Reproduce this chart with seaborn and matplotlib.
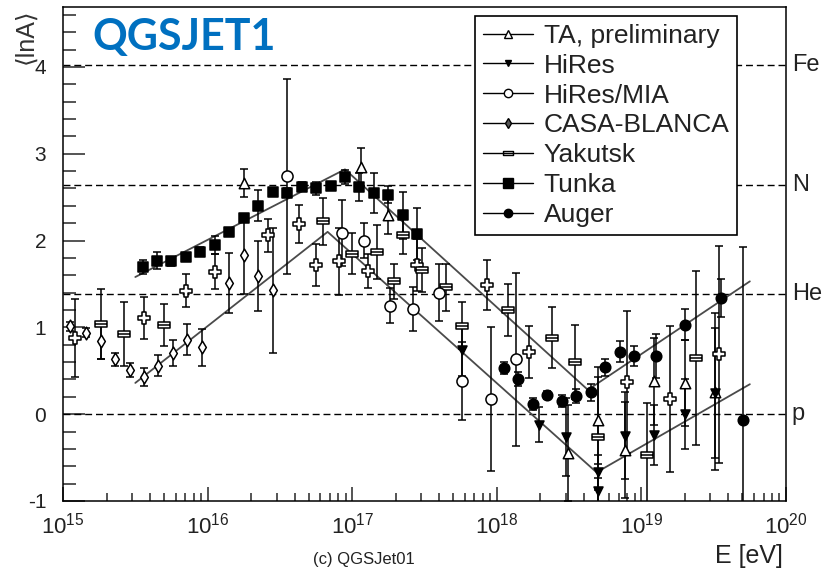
import numpy as np
import pandas as pd
import matplotlib
matplotlib.use("Agg")
import matplotlib.pyplot as plt
import matplotlib.transforms as mtransforms
from matplotlib.lines import Line2D
from matplotlib.path import Path
from matplotlib.ticker import MultipleLocator, LogLocator, FixedLocator, NullFormatter
import seaborn as sns

# ---- measurements: log10(E/eV), <lnA>, symmetric error ----
ta_logE = [16.25, 17.06, 17.25, 18.49, 18.70, 18.89, 19.09, 19.30, 19.51]
ta_lnA = [2.66, 2.85, 2.29, -0.45, -0.07, -0.41, 0.38, 0.36, 0.26]
ta_err = [0.16, 0.22, 0.22, 0.55, 0.50, 0.55, 0.50, 0.50, 0.90]

hires_logE = [17.76, 18.29, 18.48, 18.70, 18.70, 18.89, 19.09, 19.30, 19.51]
hires_lnA = [0.74, -0.12, -0.26, -0.67, -0.88, -0.25, -0.24, 0.00, 0.24]
hires_err = [0.30, 0.20, 0.45, 0.20, 0.15, 0.50, 0.35, 0.40, 0.75]

mia_logE = [16.55, 16.93, 17.08, 17.26, 17.42, 17.60, 17.76, 17.96, 18.13]
mia_lnA = [2.74, 2.09, 2.00, 1.25, 1.21, 1.40, 0.38, 0.17, 0.63]
mia_err = [1.12, 0.38, 0.20, 0.20, 0.25, 0.33, 0.45, 0.83, 1.00]

casa_logE = [15.05, 15.16, 15.26, 15.36, 15.46, 15.56, 15.66, 15.76, 15.86, 15.96,
             16.15, 16.25, 16.35, 16.45]
casa_lnA = [1.01, 0.94, 0.84, 0.63, 0.51, 0.43, 0.56, 0.70, 0.86, 0.77,
            1.51, 1.83, 1.59, 1.43]
casa_err = [0.05, 0.05, 0.20, 0.08, 0.08, 0.10, 0.12, 0.15, 0.18, 0.21,
            0.35, 0.45, 0.40, 0.72]

yak_cross_logE = [15.08, 15.56, 15.85, 16.05, 16.42, 16.63, 16.75, 16.91, 17.11,
                  17.45, 17.93, 18.22, 18.90, 19.20, 19.54]
yak_cross_lnA = [0.88, 1.11, 1.42, 1.64, 2.06, 2.19, 1.72, 1.76, 1.65,
                 1.72, 1.49, 0.72, 0.37, 0.17, 0.69]
yak_cross_err = [0.45, 0.24, 0.19, 0.20, 0.19, 0.22, 0.24, 0.39, 0.20,
                 0.30, 0.29, 0.30, 0.82, 0.84, 1.25]

yak_box_logE = [15.26, 15.42, 15.70, 16.80, 17.00, 17.17, 17.29, 17.35, 17.48,
                17.65, 17.76, 18.08, 18.38, 18.54, 18.70, 19.04, 19.38]
yak_box_lnA = [1.04, 0.92, 1.03, 2.22, 1.85, 1.87, 1.53, 2.06, 1.66,
               1.46, 1.02, 1.20, 0.88, 0.60, -0.26, -0.47, 0.65]
yak_box_err = [0.40, 0.37, 0.24, 0.27, 0.24, 0.31, 0.20, 0.21, 0.25,
               0.27, 0.27, 0.30, 0.35, 0.43, 0.80, 0.60, 1.00]

tunka_logE = [15.55, 15.65, 15.75, 15.85, 15.95, 16.05, 16.15, 16.25, 16.35, 16.45,
              16.55, 16.65, 16.75, 16.85, 16.95, 17.05, 17.15, 17.25, 17.35, 17.45]
tunka_lnA = [1.70, 1.77, 1.76, 1.81, 1.87, 1.95, 2.10, 2.26, 2.40, 2.56,
             2.55, 2.62, 2.60, 2.63, 2.73, 2.62, 2.55, 2.53, 2.29, 2.08]
tunka_err = [0.08, 0.10, 0.05, 0.05, 0.05, 0.10, 0.05, 0.05, 0.18, 0.05,
             0.05, 0.05, 0.07, 0.05, 0.08, 0.16, 0.23, 0.10, 0.27, 0.30]

auger_logE = [18.05, 18.15, 18.25, 18.35, 18.45, 18.55, 18.65, 18.75, 18.85, 18.95,
              19.10, 19.30, 19.55, 19.70]
auger_lnA = [0.53, 0.41, 0.12, 0.22, 0.15, 0.21, 0.25, 0.54, 0.72, 0.67,
             0.67, 1.03, 1.34, -0.07]
auger_err = [0.07, 0.08, 0.07, 0.05, 0.07, 0.08, 0.10, 0.10, 0.12, 0.12,
             0.25, 0.18, 0.22, 2.00]

# broken-line composition trends
upper_logE = [15.50, 16.95, 18.63, 19.75]
upper_lnA = [1.58, 2.82, 0.28, 1.53]
lower_logE = [15.50, 16.83, 18.69, 19.75]
lower_lnA = [0.36, 2.10, -0.67, 0.345]

# reference nuclei
nuclei = ["p", "He", "N", "Fe"]
nuclei_lnA = [0.0, np.log(4), np.log(14), np.log(56)]

legend_labels = ["TA, preliminary", "HiRes", "HiRes/MIA", "CASA-BLANCA",
                 "Yakutsk", "Tunka", "Auger"]

# ---- style ----
sns.set_theme(style="ticks")
plt.rcParams["font.family"] = ["Liberation Sans", "DejaVu Sans"]
plt.rcParams["mathtext.fontset"] = "custom"
plt.rcParams["mathtext.rm"] = "Liberation Sans"
plt.rcParams["mathtext.it"] = "Liberation Sans:italic"
plt.rcParams["axes.unicode_minus"] = False

W, H = 827, 572
fig = plt.figure(figsize=(W / 100, H / 100), dpi=100)
fig.patch.set_facecolor("white")
ax = fig.add_axes([63 / W, 1 - 501 / H, 723 / W, 494 / H])
ax.set_facecolor("white")

# box with a bar through it
box_marker = Path([(-1, -0.5), (1, -0.5), (1, 0.5), (-1, 0.5), (-1, -0.5),
                   (-1, 0), (1, 0)],
                  [Path.MOVETO, Path.LINETO, Path.LINETO, Path.LINETO, Path.CLOSEPOLY,
                   Path.MOVETO, Path.LINETO])

# horizontal reference levels
for v in nuclei_lnA:
    ax.axhline(v, color="black", lw=1.0, ls=(0, (5, 2.8)), zorder=1)

# trend lines
for xs, ys in [(upper_logE, upper_lnA), (lower_logE, lower_lnA)]:
    d = pd.DataFrame({"E": 10.0 ** np.array(xs), "lnA": ys})
    sns.lineplot(data=d, x="E", y="lnA", color="#4a4a4a", lw=1.3, ax=ax,
                 sort=False, estimator=None, zorder=2)

series = [
    # logE, lnA, err, marker, size, face
    (casa_logE, casa_lnA, casa_err, "d", 6.5, "white"),
    (yak_cross_logE, yak_cross_lnA, yak_cross_err, "P", 8.5, "white"),
    (yak_box_logE, yak_box_lnA, yak_box_err, box_marker, 8.5, "white"),
    (mia_logE, mia_lnA, mia_err, "o", 8.0, "white"),
    (tunka_logE, tunka_lnA, tunka_err, "s", 7.5, "black"),
    (auger_logE, auger_lnA, auger_err, "o", 7.6, "black"),
    (ta_logE, ta_lnA, ta_err, "^", 7.5, "white"),
    (hires_logE, hires_lnA, hires_err, "v", 6.5, "black"),
]

for lx, ly, le, m, ms, fc in series:
    E = 10.0 ** np.array(lx)
    ax.errorbar(E, ly, yerr=le, fmt="none", ecolor="black", elinewidth=1.1,
                capsize=3, capthick=1.1, zorder=3)
    d = pd.DataFrame({"E": E, "lnA": ly})
    sns.scatterplot(data=d, x="E", y="lnA", marker=m, s=ms ** 2, facecolor=fc,
                    edgecolor="black", linewidth=1.1, ax=ax, legend=False, zorder=4)

# ---- axes ----
ax.set_xscale("log")
ax.set_xlim(1e15, 1e20)
ax.set_ylim(-1, 4.69)
ax.set_xlabel("")
ax.set_ylabel("")
ax.yaxis.set_major_locator(FixedLocator([-1, 0, 1, 2, 3, 4]))
ax.yaxis.set_minor_locator(MultipleLocator(0.2))
ax.xaxis.set_major_locator(LogLocator(base=10, numticks=10))
ax.xaxis.set_minor_locator(LogLocator(base=10, subs=np.arange(2, 10), numticks=60))
ax.xaxis.set_minor_formatter(NullFormatter())
ax.tick_params(axis="y", which="major", direction="in", length=16, width=1.1,
               pad=12, labelsize=15, labelcolor="#222222", right=False)
ax.tick_params(axis="y", which="minor", direction="in", length=9, width=1.1, right=False)
ax.tick_params(axis="x", which="major", direction="in", length=10, width=1.1,
               pad=8, labelsize=16, labelcolor="#222222", top=False)
ax.tick_params(axis="x", which="minor", direction="in", length=6, width=1.1, top=False)
for sp in ax.spines.values():
    sp.set_color("black")
    sp.set_linewidth(1.1)
    sp.set_visible(True)

# nucleus names on the right edge
trans = mtransforms.blended_transform_factory(ax.transAxes, ax.transData)
for name, v in zip(nuclei, nuclei_lnA):
    ax.text(1.008, v, name, transform=trans, ha="left", va="center",
            fontsize=17, color="#222222")

# ---- legend ----
handles = [
    Line2D([0], [0], color="black", lw=1, marker="^", ms=6, mfc="white", mec="black"),
    Line2D([0], [0], color="black", lw=1, marker="v", ms=5, mfc="black", mec="black"),
    Line2D([0], [0], color="black", lw=1, marker="o", ms=6, mfc="white", mec="black"),
    Line2D([0], [0], color="black", lw=1, marker="d", ms=5, mfc="#555555", mec="black"),
    Line2D([0], [0], color="black", lw=1, marker=box_marker, ms=7, mfc="white", mec="black"),
    Line2D([0], [0], color="black", lw=1, marker="s", ms=7, mfc="black", mec="black"),
    Line2D([0], [0], color="black", lw=1, marker="o", ms=6, mfc="black", mec="black"),
]
leg = ax.legend(handles, legend_labels, loc="upper left",
                bbox_to_anchor=((475 - 63) / 723, (501 - 16) / 494),
                borderaxespad=0, frameon=True, fancybox=False, framealpha=1,
                edgecolor="black", fontsize=19, labelspacing=0.22,
                handlelength=1.9, handletextpad=0.4, borderpad=0.3)
leg.get_frame().set_linewidth(1.2)
leg.set_zorder(10)
for t in leg.get_texts():
    t.set_color("#222222")

# ---- figure texts ----
fig.text(25 / W, 1 - 36 / H, "\u27e8lnA\u27e9", rotation=90, ha="center",
         va="center", fontsize=18, color="#333333")
fig.text(783 / W, 1 - 563 / H, "E [eV]", ha="right", va="baseline",
         fontsize=18, color="#222222")
fig.text(92 / W, 1 - 50 / H, "QGSJET1", ha="left", va="baseline",
         fontsize=31, fontweight="bold", color="#0070C0", family="Lato")
fig.text(313 / W, 1 - 552 / H, "(c) QGSJet01", ha="left", va="top",
         fontsize=12, color="#222222")

fig.savefig("out.png", dpi=100)
